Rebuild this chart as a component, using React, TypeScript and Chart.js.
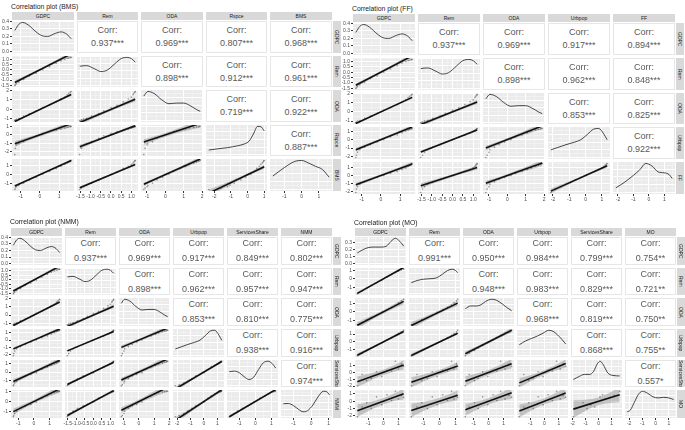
import React, { useEffect, useRef } from "react";
import { Chart, registerables } from "chart.js";
Chart.register(...registerables);

const FONT = "'Liberation Sans', Arial, Helvetica, sans-serif";

// ---------------- shared data (BMS / FF / NMM) ----------------
const GDPC_OBS = [-1.31, -1.28, -1.22, -1.1, -0.85, -0.55, -0.2, 0.15, 0.5, 0.85, 1.1, 1.3, 1.42, 1.5, 1.58, 1.63];
const REM_OBS = [-1.53, -1.45, -1.35, -1.2, -0.95, -0.6, -0.35, 0.0, 0.3, 0.6, 0.85, 1.0, 1.08, 1.12, 1.17, 1.19];
const ODA_OBS = [-1.17, -1.1, -1.0, -0.95, -0.7, -0.45, -0.15, 0.2, 0.45, 0.8, 1.1, 1.3, 1.55, 1.7, 1.82, 1.9];
const RSPCE_OBS = [-2.33, -1.6, -1.2, -1.05, -0.8, -0.4, -0.1, 0.2, 0.4, 0.55, 0.7, 0.8, 0.88, 0.93, 0.97, 1.0];
const BMS_OBS = [-1.66, -1.5, -1.35, -1.2, -0.95, -0.6, -0.3, 0.05, 0.35, 0.7, 0.95, 1.15, 1.3, 1.42, 1.52, 1.59];
const URBPOP_OBS = [-2.13, -1.85, -1.5, -1.2, -0.9, -0.6, -0.3, 0.0, 0.3, 0.55, 0.8, 1.0, 1.12, 1.2, 1.27, 1.32];
const FF_OBS = [-2.14, -1.7, -1.4, -1.1, -0.8, -0.5, -0.25, 0.0, 0.25, 0.5, 0.75, 0.95, 1.15, 1.3, 1.42, 1.51];
const SS_OBS = [-1.62, -1.5, -1.3, -1.1, -0.8, -0.45, -0.3, -0.1, 0.3, 0.6, 0.8, 0.95, 1.05, 1.15, 1.22, 1.27];
const NMM_OBS = [-1.58, -1.45, -1.25, -1.0, -0.7, -0.45, -0.3, -0.05, 0.35, 0.6, 0.8, 0.9, 0.98, 1.02, 1.04, 1.06];

const GDPC_DX = [-1.31, -1.1, -0.9, -0.6, -0.2, 0.1, 0.4, 0.8, 1.1, 1.4, 1.63];
const GDPC_DY = [0.28, 0.36, 0.385, 0.35, 0.26, 0.21, 0.2, 0.24, 0.26, 0.23, 0.17];
const REM_DX = [-1.53, -1.2, -0.8, -0.5, -0.2, 0.2, 0.5, 0.8, 1.0, 1.19];
const REM_DY = [0.66, 0.68, 0.57, 0.48, 0.52, 0.75, 0.92, 0.96, 0.92, 0.8];
const ODA_DX = [-1.17, -0.95, -0.6, -0.2, 0.2, 0.6, 1.0, 1.4, 1.7, 1.9];
const ODA_DY = [0.8, 0.95, 0.88, 0.68, 0.55, 0.57, 0.57, 0.47, 0.36, 0.3];
const RSPCE_DX = [-2.33, -1.8, -1.2, -0.6, -0.2, 0.1, 0.35, 0.6, 0.8, 1.0];
const RSPCE_DY = [0.15, 0.19, 0.23, 0.29, 0.35, 0.45, 0.68, 0.93, 0.92, 0.78];
const BMS_DX = [-1.66, -1.2, -0.8, -0.4, 0, 0.4, 0.8, 1.2, 1.59];
const BMS_DY = [0.42, 0.6, 0.75, 0.87, 0.9, 0.82, 0.72, 0.62, 0.38];
const URBPOP_DX = [-2.13, -1.7, -1.2, -0.7, -0.3, 0.1, 0.5, 0.8, 1.1, 1.32];
const URBPOP_DY = [0.25, 0.33, 0.42, 0.5, 0.58, 0.75, 0.93, 0.95, 0.78, 0.58];
const FF_DX = [-2.14, -1.6, -1.0, -0.6, -0.2, 0.2, 0.6, 1.0, 1.3, 1.51];
const FF_DY = [0.15, 0.32, 0.55, 0.72, 0.93, 0.85, 0.66, 0.63, 0.58, 0.45];
const SS_DX = [-1.62, -1.3, -1.0, -0.7, -0.4, -0.1, 0.2, 0.5, 0.8, 1.05, 1.27];
const SS_DY = [0.54, 0.56, 0.5, 0.35, 0.24, 0.33, 0.62, 0.88, 0.94, 0.85, 0.68];
const NMM_DX = [-1.58, -1.3, -1.0, -0.7, -0.45, -0.2, 0.1, 0.4, 0.7, 0.9, 1.06];
const NMM_DY = [0.47, 0.48, 0.4, 0.26, 0.18, 0.22, 0.42, 0.72, 0.92, 0.9, 0.78];

// ---------------- MO data ----------------
const MO_GDPC_OBS = [-1.72, -1.4, -1.1, -0.8, -0.45, -0.1, 0.25, 0.55, 0.8, 1.0, 1.2, 1.35];
const MO_REM_OBS = [-1.75, -1.4, -1.1, -0.75, -0.45, -0.15, 0.2, 0.5, 0.75, 0.9, 1.05, 1.13];
const MO_ODA_OBS = [-1.56, -1.3, -0.95, -0.7, -0.4, -0.05, 0.3, 0.55, 0.8, 1.1, 1.35, 1.54];
const MO_URBPOP_OBS = [-1.76, -1.45, -1.1, -0.8, -0.45, -0.1, 0.25, 0.55, 0.85, 1.1, 1.3, 1.48];
const MO_SS_OBS = [-1.95, -0.3, -1.2, -0.9, 0.1, -0.6, 0.3, 0.2, 1.62, 0.5, 1.2, 0.9];
const MO_MO_OBS = [-2.13, -0.8, -0.2, -1.0, 0.6, -0.5, 0.9, 0.1, 1.37, 0.3, 0.8, 0.55];

const MO_GDPC_DX = [-1.72, -1.4, -1.0, -0.6, -0.2, 0.2, 0.5, 0.8, 1.1, 1.35];
const MO_GDPC_DY = [0.15, 0.19, 0.225, 0.232, 0.232, 0.245, 0.31, 0.355, 0.31, 0.245];
const MO_REM_DX = [-1.75, -1.4, -1.0, -0.6, -0.2, 0.2, 0.5, 0.8, 1.0, 1.13];
const MO_REM_DY = [0.42, 0.5, 0.55, 0.57, 0.6, 0.75, 0.88, 0.93, 0.88, 0.8];
const MO_ODA_DX = [-1.56, -1.2, -0.8, -0.5, -0.2, 0.2, 0.5, 0.9, 1.2, 1.54];
const MO_ODA_DY = [0.6, 0.7, 0.7, 0.75, 0.87, 0.95, 0.92, 0.78, 0.65, 0.52];
const MO_URBPOP_DX = [-1.76, -1.3, -0.9, -0.5, -0.1, 0.3, 0.6, 0.9, 1.2, 1.48];
const MO_URBPOP_DY = [0.42, 0.57, 0.66, 0.75, 0.86, 0.97, 0.93, 0.8, 0.63, 0.45];
const MO_SS_DX = [-1.95, -1.5, -1.1, -0.7, -0.4, -0.1, 0.1, 0.35, 0.7, 1.1, 1.62];
const MO_SS_DY = [0.24, 0.36, 0.44, 0.44, 0.55, 0.85, 0.95, 0.82, 0.5, 0.4, 0.38];
const MO_MO_DX = [-2.13, -1.9, -1.6, -1.3, -1.0, -0.6, -0.2, 0.2, 0.6, 1.0, 1.37];
const MO_MO_DY = [0.18, 0.24, 0.52, 0.8, 0.92, 0.85, 0.72, 0.68, 0.7, 0.68, 0.62];

// ---------------- tick values ----------------
const TICKS_UNIT = [-1, 0, 1];
const TICKS_REM = [-1.5, -1, -0.5, 0, 0.5, 1];
const TICKS_ODA = [-1, 0, 1, 2];
const TICKS_NEG2 = [-2, -1, 0, 1];
const DENS_TICKS_SHARED = [0, 0.1, 0.2, 0.3, 0.4];
const DENS_TICKS_MO = [0, 0.1, 0.2, 0.3];
const DENS_TICKS_REL = [0, 0.25, 0.5, 0.75, 1];

// ---------------- correlations ----------------
const BMS_CORR = [[0.937, 0.969, 0.807, 0.968], [0.898, 0.912, 0.961], [0.719, 0.922], [0.887]];
const BMS_STARS = [["***", "***", "***", "***"], ["***", "***", "***"], ["***", "***"], ["***"]];
const FF_CORR = [[0.937, 0.969, 0.917, 0.894], [0.898, 0.962, 0.848], [0.853, 0.825], [0.922]];
const FF_STARS = [["***", "***", "***", "***"], ["***", "***", "***"], ["***", "***"], ["***"]];
const NMM_CORR = [[0.937, 0.969, 0.917, 0.849, 0.802], [0.898, 0.962, 0.957, 0.947], [0.853, 0.81, 0.775], [0.938, 0.916], [0.974]];
const NMM_STARS = [["***", "***", "***", "***", "***"], ["***", "***", "***", "***"], ["***", "***", "***"], ["***", "***"], ["***"]];
const MO_CORR = [[0.991, 0.95, 0.984, 0.799, 0.754], [0.948, 0.983, 0.829, 0.721], [0.968, 0.819, 0.75], [0.868, 0.755], [0.557]];
const MO_STARS = [["***", "***", "***", "***", "**"], ["***", "***", "***", "**"], ["***", "***", "**"], ["***", "**"], ["*"]];

const SAMPLE_SHARED = 40;
const SAMPLE_MO = 12;
const T_SHARED = 2.02;
const T_MO = 2.23;

// ---------------- builders ----------------
type V = { name: string; obs: number[]; dx: number[]; dy: number[]; ticks: number[]; dec: number };
const mk = (name: string, obs: number[], dx: number[], dy: number[], ticks: number[], dec = 0): V => ({ name, obs, dx, dy, ticks, dec });

const S_GDPC = mk("GDPC", GDPC_OBS, GDPC_DX, GDPC_DY, TICKS_UNIT);
const S_REM = mk("Rem", REM_OBS, REM_DX, REM_DY, TICKS_REM, 1);
const S_ODA = mk("ODA", ODA_OBS, ODA_DX, ODA_DY, TICKS_ODA);
const S_RSPCE = mk("Rspce", RSPCE_OBS, RSPCE_DX, RSPCE_DY, TICKS_NEG2);
const S_BMS = mk("BMS", BMS_OBS, BMS_DX, BMS_DY, TICKS_UNIT);
const S_URB = mk("Urbpop", URBPOP_OBS, URBPOP_DX, URBPOP_DY, TICKS_NEG2);
const S_FF = mk("FF", FF_OBS, FF_DX, FF_DY, TICKS_NEG2);
const S_SS = mk("ServicesShare", SS_OBS, SS_DX, SS_DY, TICKS_UNIT);
const S_NMM = mk("NMM", NMM_OBS, NMM_DX, NMM_DY, TICKS_UNIT);
const M_GDPC = mk("GDPC", MO_GDPC_OBS, MO_GDPC_DX, MO_GDPC_DY, TICKS_UNIT);
const M_REM = mk("Rem", MO_REM_OBS, MO_REM_DX, MO_REM_DY, TICKS_UNIT);
const M_ODA = mk("ODA", MO_ODA_OBS, MO_ODA_DX, MO_ODA_DY, TICKS_UNIT);
const M_URB = mk("Urbpop", MO_URBPOP_OBS, MO_URBPOP_DX, MO_URBPOP_DY, TICKS_UNIT);
const M_SS = mk("ServicesShare", MO_SS_OBS, MO_SS_DX, MO_SS_DY, TICKS_NEG2);
const M_MO = mk("MO", MO_MO_OBS, MO_MO_DX, MO_MO_DY, TICKS_NEG2);

type M = {
  title: string; vars: V[]; corr: number[][]; stars: string[][];
  densTicks: number[]; n: number; t: number;
  x0: number; x1: number; y0: number; y1: number; titleTop: number; lh: number;
};

const MATRICES: M[] = [
  { title: "Correlation plot (BMS)", vars: [S_GDPC, S_REM, S_ODA, S_RSPCE, S_BMS], corr: BMS_CORR, stars: BMS_STARS,
    densTicks: DENS_TICKS_SHARED, n: SAMPLE_SHARED, t: T_SHARED, x0: 12, x1: 332, y0: 21, y1: 191, titleTop: 2, lh: 13 },
  { title: "Correlation plot (FF)", vars: [S_GDPC, S_REM, S_ODA, S_URB, S_FF], corr: FF_CORR, stars: FF_STARS,
    densTicks: DENS_TICKS_SHARED, n: SAMPLE_SHARED, t: T_SHARED, x0: 353, x1: 675, y0: 23, y1: 194, titleTop: 4, lh: 13 },
  { title: "Correlation plot (NMM)", vars: [S_GDPC, S_REM, S_ODA, S_URB, S_SS, S_NMM], corr: NMM_CORR, stars: NMM_STARS,
    densTicks: DENS_TICKS_SHARED, n: SAMPLE_SHARED, t: T_SHARED, x0: 11, x1: 332, y0: 237, y1: 418, titleTop: 217, lh: 15 },
  { title: "Correlation plot (MO)", vars: [M_GDPC, M_REM, M_ODA, M_URB, M_SS, M_MO], corr: MO_CORR, stars: MO_STARS,
    densTicks: DENS_TICKS_MO, n: SAMPLE_MO, t: T_MO, x0: 355, x1: 676, y0: 237, y1: 418, titleTop: 218, lh: 15 },
];

const GAP = 3, AXL = 11, AXB = 9, PAD = 4, STRIP = 8;

function extent(a: number[]): [number, number] {
  const lo = Math.min(...a), hi = Math.max(...a), d = hi - lo;
  return [lo - 0.05 * d, hi + 0.05 * d];
}
function fmt(v: number, dec: number) {
  if (Math.abs(v) < 1e-9) v = 0;
  return v.toFixed(dec);
}

function axis(min: number, max: number, majors: number[], dec: number, show: boolean, isX: boolean) {
  const maj = majors.filter((v) => v >= min - 1e-9 && v <= max + 1e-9);
  const step = majors[1] - majors[0];
  const minors: number[] = [];
  for (let k = -1; k < maj.length + 1; k++) {
    const v = maj[0] + (k + 0.5) * step;
    if (v > min && v < max) minors.push(v);
  }
  const all = [...maj, ...minors].sort((a, b) => a - b);
  const isMaj = (v: any) => typeof v === "number" && maj.some((m) => Math.abs(m - v) < 1e-6);
  return {
    type: "linear", min, max, display: true,
    afterBuildTicks: (s: any) => { s.ticks = all.map((v) => ({ value: v })); },
    afterFit: (s: any) => {
      if (isX) s.height = show ? AXB : 0; else s.width = show ? AXL : 0;
      s.paddingLeft = 0; s.paddingRight = 0; s.paddingTop = 0; s.paddingBottom = 0;
    },
    ticks: {
      display: show, autoSkip: false, maxRotation: 0, minRotation: 0, padding: 1,
      font: { size: 5, family: FONT }, color: "#4D4D4D",
      callback: (v: any) => (isMaj(v) ? fmt(v, dec) : ""),
    },
    grid: {
      drawOnChartArea: true, drawTicks: show, tickLength: 2,
      color: (c: any) => (isMaj(c.tick && c.tick.value) ? "#FFFFFF" : "rgba(255,255,255,0.6)"),
      lineWidth: (c: any) => (isMaj(c.tick && c.tick.value) ? 1 : 0.5),
      tickColor: (c: any) => (isMaj(c.tick && c.tick.value) ? "#333333" : "rgba(0,0,0,0)"),
    },
    border: { display: false },
  };
}

const bgPlugin = {
  id: "panelBg",
  beforeDraw(chart: any) {
    const { ctx, chartArea: a } = chart;
    if (!a) return;
    ctx.save();
    ctx.fillStyle = "#EBEBEB";
    ctx.fillRect(a.left, a.top, a.right - a.left, a.bottom - a.top);
    ctx.restore();
  },
};

function baseOptions(x: any, y: any) {
  return {
    animation: false, responsive: false, maintainAspectRatio: false, devicePixelRatio: 1,
    layout: { padding: PAD },
    plugins: { legend: { display: false }, tooltip: { enabled: false } },
    events: [],
    scales: { x, y },
  };
}

function diagConfig(m: M, i: number) {
  const v = m.vars[i];
  const n = m.vars.length;
  const [xmin, xmax] = extent(v.obs);
  const ymax = Math.max(...v.dy);
  const first = i === 0;
  const data = v.dx.map((x, k) => ({ x, y: v.dy[k] }));
  return {
    type: "scatter",
    data: { datasets: [{ data, showLine: true, borderColor: "#1A1A1A", borderWidth: 0.8, pointRadius: 0, cubicInterpolationMode: "monotone", clip: 0 }] },
    options: baseOptions(
      axis(xmin, xmax, v.ticks, v.dec, i === n - 1, true),
      axis(-0.05 * ymax, 1.05 * ymax, first ? m.densTicks : DENS_TICKS_REL, 1, first, false)
    ),
    plugins: [bgPlugin],
  };
}

function lowerConfig(m: M, i: number, j: number) {
  const xv = m.vars[j], yv = m.vars[i];
  const n = m.vars.length;
  const r = m.corr[j][i - j - 1];
  const [xmin, xmax] = extent(xv.obs);
  const [ymin, ymax] = extent(yv.obs);
  const lo = Math.min(...xv.obs), hi = Math.max(...xv.obs);
  const s = Math.sqrt(1 - r * r);
  const hw = (x: number) => m.t * s * Math.sqrt(1 / m.n + (x * x) / (m.n - 1));
  const bx: number[] = [];
  for (let k = 0; k <= 10; k++) bx.push(lo + ((hi - lo) * k) / 10);
  const pts = xv.obs.map((x, k) => ({ x, y: yv.obs[k] }));
  return {
    type: "scatter",
    data: {
      datasets: [
        { data: [{ x: lo, y: r * lo }, { x: hi, y: r * hi }], showLine: true, borderColor: "#111111", borderWidth: 1.6, pointRadius: 0, clip: 0 },
        { data: pts, showLine: false, pointRadius: 0.8, pointBackgroundColor: "rgba(30,30,30,0.45)", pointBorderWidth: 0, clip: 0 },
        { data: bx.map((x) => ({ x, y: r * x - hw(x) })), showLine: true, borderWidth: 0, borderColor: "rgba(0,0,0,0)", pointRadius: 0, fill: false, tension: 0.3, clip: 0 },
        { data: bx.map((x) => ({ x, y: r * x + hw(x) })), showLine: true, borderWidth: 0, borderColor: "rgba(0,0,0,0)", pointRadius: 0, fill: "-1", backgroundColor: "rgba(140,140,140,0.45)", tension: 0.3, clip: 0 },
      ],
    },
    options: baseOptions(
      axis(xmin, xmax, xv.ticks, xv.dec, i === n - 1, true),
      axis(ymin, ymax, yv.ticks, yv.dec, j === 0, false)
    ),
    plugins: [bgPlugin],
  };
}

function ChartCanvas({ left, top, width, height, make }: { left: number; top: number; width: number; height: number; make: () => any }) {
  const ref = useRef<HTMLCanvasElement>(null);
  useEffect(() => {
    const chart = new Chart(ref.current as HTMLCanvasElement, make());
    return () => chart.destroy();
  }, []);
  return (
    <canvas ref={ref} width={width} height={height}
      style={{ position: "absolute", left, top, width, height }} />
  );
}

function cellRects(a: number, b: number, n: number): [number, number][] {
  const w = (b - a - GAP * (n - 1)) / n;
  const out: [number, number][] = [];
  for (let k = 0; k < n; k++) {
    const s = Math.round(a + k * (w + GAP));
    const e = Math.round(a + k * (w + GAP) + w);
    out.push([s, e - s]);
  }
  return out;
}

function Matrix({ m }: { m: M }) {
  const n = m.vars.length;
  const cols = cellRects(m.x0, m.x1, n);
  const rows = cellRects(m.y0, m.y1, n);
  const els: any[] = [];
  els.push(
    <div key="title" style={{ position: "absolute", left: m.x0 - 1, top: m.titleTop, fontSize: 6.8, lineHeight: "9px", color: "#1A1A1A", fontWeight: 400, whiteSpace: "nowrap" }}>{m.title}</div>
  );
  cols.forEach(([l, w], j) =>
    els.push(
      <div key={"cs" + j} style={{ position: "absolute", left: l, top: m.y0 - STRIP - 1, width: w, height: STRIP, background: "#D9D9D9", fontSize: 5, lineHeight: STRIP + "px", textAlign: "center", color: "#1A1A1A", overflow: "hidden", whiteSpace: "nowrap" }}>{m.vars[j].name}</div>
    )
  );
  rows.forEach(([t, h], i) =>
    els.push(
      <div key={"rs" + i} style={{ position: "absolute", left: m.x1 + 1, top: t, width: STRIP, height: h, background: "#D9D9D9", writingMode: "vertical-rl", fontSize: 5, lineHeight: STRIP + "px", textAlign: "center", color: "#1A1A1A", overflow: "hidden", whiteSpace: "nowrap" }}>{m.vars[i].name}</div>
    )
  );
  rows.forEach(([t, h], i) =>
    cols.forEach(([l, w], j) => {
      if (j > i) {
        const val = m.corr[i][j - i - 1];
        const st = m.stars[i][j - i - 1];
        els.push(
          <div key={"c" + i + "_" + j} style={{ position: "absolute", left: l, top: t, width: w, height: h, boxSizing: "border-box", border: "1px solid #E6E6E6", background: "#fff", display: "flex", flexDirection: "column", justifyContent: "center", alignItems: "center", color: "#595959", fontSize: 9, lineHeight: m.lh + "px", whiteSpace: "nowrap" }}>
            <div>Corr:</div>
            <div>{val.toFixed(3) + st}</div>
          </div>
        );
      } else {
        const extraL = j === 0 ? AXL : 0;
        const extraB = i === n - 1 ? AXB : 0;
        els.push(
          <ChartCanvas key={"p" + i + "_" + j}
            left={l - extraL - PAD} top={t - PAD}
            width={w + extraL + 2 * PAD} height={h + extraB + 2 * PAD}
            make={() => (i === j ? diagConfig(m, i) : lowerConfig(m, i, j))} />
        );
      }
    })
  );
  return <>{els}</>;
}

export default function App() {
  return (
    <div style={{ position: "absolute", left: 0, top: 0, width: 685, height: 430, background: "#fff", overflow: "hidden", fontFamily: FONT }}>
      {MATRICES.map((m, k) => <Matrix key={k} m={m} />)}
    </div>
  );
}
